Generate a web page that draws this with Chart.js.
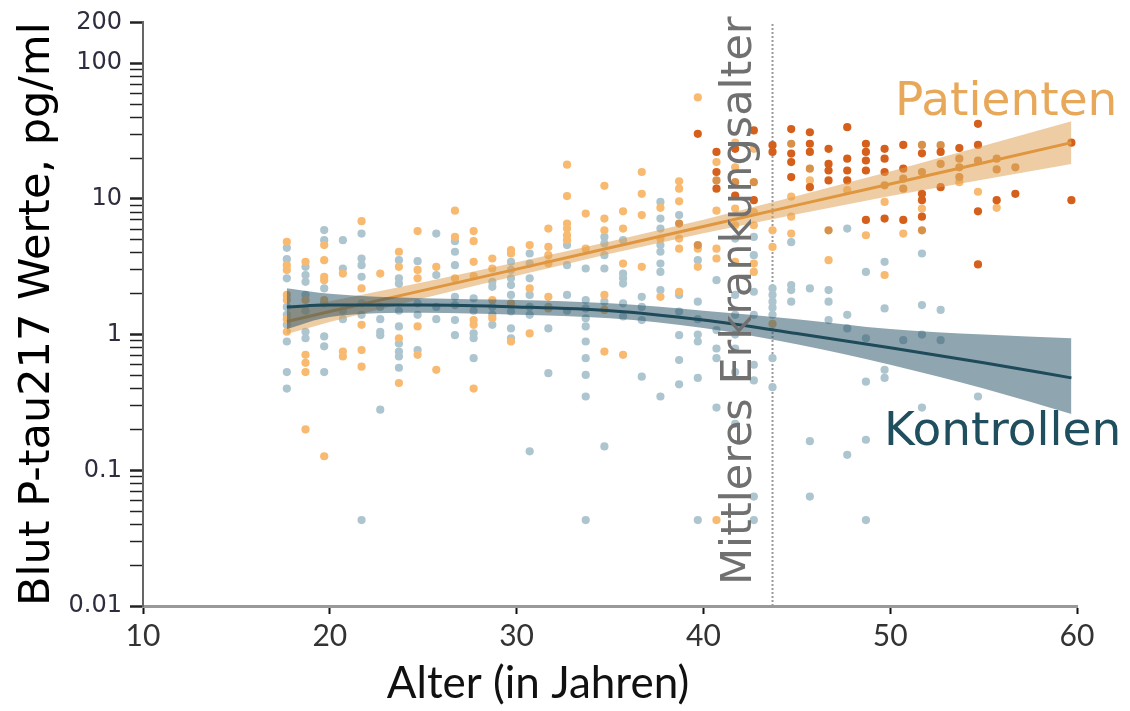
<!DOCTYPE html>
<html>
<head>
<meta charset="utf-8">
<script src="https://cdn.jsdelivr.net/npm/chart.js@4.4.0/dist/chart.umd.min.js"></script>
<style>
  html, body { margin: 0; padding: 0; background: #fff; }
  #wrap { width: 1130px; height: 711px; }
</style>
</head>
<body>
<div id="wrap"><canvas id="chart" width="1130" height="711"></canvas></div>
<script>
// Messwerte je Altersspalte: [Alter, [Werte pg/ml]]
const kontrollen = [
  [17.7, [4.36, 3.6, 2.6, 1.6, 1.4, 1.18, 0.89, 0.53, 0.40]],
  [18.7, [3.16, 2.75, 2.45, 1.96, 1.5, 1.05, 0.94]],
  [19.7, [5.9, 4.97, 2.19, 1.7, 0.97, 0.82, 0.53]],
  [20.7, [4.97, 3.07, 1.5, 1.3]],
  [21.7, [5.56, 3.64, 3.25, 2.67, 1.7, 1.4, 0.043]],
  [22.7, [1.6, 1.3, 1.05, 0.99, 0.28]],
  [23.7, [3.54, 2.6, 2.38, 1.5, 1.15, 0.86, 0.75, 0.69, 0.57]],
  [24.7, [3.48, 1.7, 1.4, 0.77]],
  [25.7, [5.56, 2.75, 1.6, 1.3]],
  [26.7, [4.88, 4.08, 3.25, 1.9, 1.65, 1.28, 0.99]],
  [27.7, [1.85, 1.5, 1.02, 0.94, 0.67]],
  [28.7, [2.45, 2.25, 1.6, 1.4, 1.18]],
  [29.7, [3.44, 3.0, 2.6, 2.32, 1.96, 1.48, 1.11, 0.94]],
  [30.7, [3.96, 3.34, 2.6, 1.96, 1.6, 1.4, 0.138]],
  [31.7, [1.6, 1.11, 0.52]],
  [32.7, [4.57, 3.25, 1.96, 1.5]],
  [33.7, [3.07, 1.8, 1.56, 1.32, 1.15, 0.89, 0.67, 0.505, 0.35, 0.043]],
  [34.7, [5.25, 4.7, 3.85, 3.07, 1.75, 0.15]],
  [35.7, [4.97, 2.82, 2.6, 2.38, 1.7, 1.36]],
  [36.7, [1.9, 1.6, 1.28, 0.49]],
  [37.7, [9.5, 7.16, 6.05, 4.57, 4.08, 3.34, 2.9, 2.13, 0.35]],
  [38.7, [7.6, 1.96, 1.48, 0.99, 0.65, 0.43]],
  [39.7, [3.54, 1.75, 1.3, 1.0, 0.89, 0.48, 0.043]],
  [40.7, [2.52, 1.08, 0.79, 0.67, 0.29]],
  [41.7, [5.1, 1.96, 1.4, 1.0, 0.79, 0.53, 0.22]],
  [42.7, [5.25, 3.85, 2.07, 1.4, 0.6, 0.46, 0.064, 0.043]],
  [43.7, [2.19, 1.96, 1.75, 1.58, 1.4, 0.67, 0.41]],
  [44.7, [4.8, 2.32, 2.13, 1.75]],
  [45.7, [2.19, 0.164, 0.064]],
  [46.7, [2.13, 1.75, 1.28]],
  [47.7, [6.05, 1.4, 1.11, 0.13]],
  [48.7, [2.9, 0.94, 0.45, 0.168, 0.043]],
  [49.7, [3.44, 1.56, 0.55, 0.48]],
  [50.7, [0.91]],
  [51.7, [3.96, 1.65, 1.0, 0.29]],
  [52.7, [1.52, 0.91]],
  [54.7, [0.35]]
];

const patientenHell = [
  [17.7, [4.83, 3.25, 3.0, 1.96, 1.8, 1.3, 1.05]],
  [18.7, [3.44, 1.8, 0.71, 0.62, 0.53, 0.2]],
  [19.7, [4.57, 3.54, 2.67, 2.52, 1.8, 0.127]],
  [20.7, [2.82, 0.75, 0.69]],
  [21.7, [6.86, 2.19, 1.18, 0.77, 0.58]],
  [22.7, [2.82]],
  [23.7, [4.08, 3.16, 0.94, 0.44]],
  [24.7, [5.8, 3.0, 2.6, 1.15, 0.71]],
  [25.7, [3.16, 0.55]],
  [26.7, [8.2, 5.25, 2.6]],
  [27.7, [5.8, 4.88, 3.44, 2.7, 1.28, 1.18, 0.4]],
  [28.7, [3.64, 3.07, 1.8, 1.32]],
  [29.7, [4.2, 3.96, 1.7, 0.89]],
  [30.7, [4.57, 2.19, 1.02]],
  [31.7, [6.05, 4.43, 3.85, 3.34, 1.9, 1.56]],
  [32.7, [17.9, 10.5, 6.58, 6.05, 5.4, 4.97]],
  [33.7, [7.8, 4.3]],
  [34.7, [12.5, 7.16, 5.87, 1.96, 1.52, 0.75]],
  [35.7, [8.1, 6.05, 3.34, 0.71]],
  [36.7, [15.8, 10.9, 7.6, 3.16]],
  [37.7, [8.6, 5.1, 1.9]],
  [38.7, [13.5, 11.9, 9.6, 5.1, 4.3, 2.07]],
  [39.7, [56, 4.3, 3.16]],
  [40.7, [18.7, 8.2, 4.3, 3.64, 0.043]],
  [41.7, [26, 17.1, 8.5, 6.4, 3.44]],
  [42.7, [23.4, 8.0, 6.4, 3.34, 2.9]],
  [43.7, [5.87, 4.43, 1.2]],
  [44.7, [10.4, 7.4, 5.56]],
  [45.7, [13.7]],
  [46.7, [3.54]],
  [47.7, [11.6]],
  [48.7, [5.4]],
  [49.7, [9.5, 2.75]],
  [50.7, [5.56]],
  [51.7, [8.5]],
  [53.7, [13.3]],
  [54.7, [11.3]],
  [55.7, [8.6]]
];

const patientenMittel = [
  [38.7, [6.58]], [39.7, [4.57]], [40.7, [13.7]], [41.7, [13.3]], [42.7, [13.3]],
  [44.7, [25.5]], [45.7, [16.7]], [46.7, [5.87]], [49.7, [12.6]], [50.7, [14.1, 11.9]],
  [51.7, [25, 15.8, 5.87]], [52.7, [24.9, 18.1]], [53.7, [19.8, 17.1, 14.5]],
  [54.7, [19.2]], [55.7, [19.8, 16.5]], [56.7, [17.1]]
];

const patientenDunkel = [
  [39.7, [30.2]], [40.7, [22.2, 15.8, 11.9]], [41.7, [23.4, 10.6]], [42.7, [32, 9.8]],
  [43.7, [24.9, 22.2]], [44.7, [32.7, 21.6, 18.7, 14.5]], [45.7, [31, 25.5, 22.2, 12.2]],
  [46.7, [23.4, 18.1, 16.2, 13.7]], [47.7, [33.8, 19.8, 16.2, 13.7]],
  [48.7, [25.5, 22.2, 19.2, 16.2, 7.0]], [49.7, [23.4, 19.8, 15.8, 7.16]],
  [50.7, [25, 16.7, 7.0]], [51.7, [21.7, 10.9, 9.8, 7.4]], [52.7, [22.2, 12.2]],
  [53.7, [23.7]], [54.7, [35.8, 25, 8.1, 3.29]], [55.7, [9.8]], [56.7, [10.9]],
  [59.7, [26, 9.8]]
];

// Regressionslinien mit Konfidenzband
const fitAlter = [17.7, 20, 25, 30, 35, 40, 45, 50, 55, 59.7];
const patientenFit   = [1.25, 1.48, 2.12, 3.04, 4.37, 6.27, 9.0, 12.9, 18.5, 26];
const patientenOben  = [1.55, 1.76, 2.43, 3.41, 4.85, 7.03, 10.5, 15.9, 24.7, 37.4];
const patientenUnten = [1.01, 1.24, 1.85, 2.71, 3.94, 5.59, 7.7, 10.5, 13.9, 18.1];
const kontrollenFit   = [1.6, 1.65, 1.65, 1.6, 1.5, 1.28, 1.02, 0.8, 0.62, 0.48];
const kontrollenOben  = [2.2, 2.0, 1.85, 1.8, 1.7, 1.5, 1.3, 1.1, 1.0, 0.94];
const kontrollenUnten = [1.1, 1.35, 1.45, 1.4, 1.32, 1.12, 0.85, 0.6, 0.4, 0.26];

const erkrankungsalter = 43.7;

const xTicks = [10, 20, 30, 40, 50, 60];
const yLabels = { 0.01: '0.01', 0.1: '0.1', 1: '1', 10: '10', 100: '100', 200: '200' };

// helpers
function toPoints(cols) {
  const pts = [];
  for (const [age, vals] of cols) for (const v of vals) pts.push({ x: age, y: v });
  return pts;
}
function toLine(ys) {
  return fitAlter.map((a, i) => ({ x: a, y: ys[i] }));
}
function yTickList() {
  const out = [];
  for (const dec of [0.01, 0.1, 1, 10]) {
    for (let m = 1; m <= 9; m++) out.push(+(dec * m).toPrecision(3));
  }
  out.push(100, 200);
  return out;
}

const pointStyle = (color, order) => ({
  type: 'line', showLine: false, pointRadius: 4.1, pointHoverRadius: 4.1,
  pointBorderWidth: 0, backgroundColor: color, borderColor: color, order
});
const lineStyle = (color, width, order, smooth) => ({
  type: 'line', borderColor: color, borderWidth: width, pointRadius: 0,
  fill: false, order, cubicInterpolationMode: smooth ? 'monotone' : 'default', tension: 0
});

// datasets — index matters for fill targets
const datasets = [
  { label: 'Kontrollen', data: toPoints(kontrollen), ...pointStyle('#adc5cf', 9) },
  { label: 'Patienten', data: toPoints(patientenHell), ...pointStyle('#f7ba70', 8) },
  { label: 'Patienten (mittel)', data: toPoints(patientenMittel), ...pointStyle('#d8914a', 7) },
  { label: 'Patienten (symptomatisch)', data: toPoints(patientenDunkel), ...pointStyle('#d5601c', 6) },
  // 4,5: Patienten Band
  { label: 'P oben', data: toLine(patientenOben), ...lineStyle('rgba(0,0,0,0)', 0, 5, false) },
  { label: 'P unten', data: toLine(patientenUnten), ...lineStyle('rgba(0,0,0,0)', 0, 5, false),
    fill: { target: 4 }, backgroundColor: 'rgba(222,160,80,0.52)' },
  { label: 'P Fit', data: toLine(patientenFit), ...lineStyle('#e0963f', 3, 4, false) },
  // 7,8: Kontrollen Band
  { label: 'K oben', data: toLine(kontrollenOben), ...lineStyle('rgba(0,0,0,0)', 0, 3, true) },
  { label: 'K unten', data: toLine(kontrollenUnten), ...lineStyle('rgba(0,0,0,0)', 0, 3, true),
    fill: { target: 7 }, backgroundColor: 'rgba(40,82,102,0.52)' },
  { label: 'K Fit', data: toLine(kontrollenFit), ...lineStyle('#1e4a5a', 3, 2, true) },
  { label: 'Erkrankungsalter', data: [{ x: erkrankungsalter, y: 0.01 }, { x: erkrankungsalter, y: 200 }],
    ...lineStyle('#9a9a9a', 2, 10, false), borderDash: [2, 2] }
];

// free text labels
const beschriftung = {
  id: 'beschriftung',
  afterDatasetsDraw(chart) {
    const { ctx } = chart;
    ctx.save();
    ctx.textAlign = 'left';
    ctx.textBaseline = 'alphabetic';
    ctx.font = '47px "DejaVu Sans"';
    ctx.fillStyle = '#e8a85a';
    ctx.fillText('Patienten', 895, 115);
    ctx.fillStyle = '#1f4e5e';
    ctx.fillText('Kontrollen', 884, 445);

    ctx.save();
    ctx.translate(751, 585);
    ctx.rotate(-Math.PI / 2);
    ctx.font = '43px "DejaVu Sans"';
    ctx.fillStyle = '#707070';
    ctx.fillText('Mittleres Erkrankungsalter', 0, 0);
    ctx.restore();

    ctx.font = '44px Lato, sans-serif';
    ctx.fillStyle = '#111';
    ctx.textAlign = 'center';
    ctx.fillText('Alter (in Jahren)', 538, 698);
    ctx.restore();
  }
};

new Chart(document.getElementById('chart').getContext('2d'), {
  type: 'line',
  data: { datasets },
  plugins: [beschriftung],
  options: {
    responsive: false,
    animation: false,
    devicePixelRatio: 1,
    layout: { padding: { top: 20, right: 53, left: 0, bottom: 0 } },
    plugins: { legend: { display: false }, tooltip: { enabled: false } },
    scales: {
      x: {
        type: 'linear', min: 10, max: 60,
        afterFit: s => { s.height = 105; },
        afterBuildTicks: s => { s.ticks = xTicks.map(v => ({ value: v })); },
        ticks: { font: { family: '"Liberation Sans Narrow", Lato, sans-serif', size: 30 }, color: '#333', padding: 4 },
        grid: { drawOnChartArea: false, drawTicks: true, tickLength: 8, tickColor: '#111', tickWidth: 2 },
        border: { display: true, color: '#999', width: 3 }
      },
      y: {
        type: 'logarithmic', min: 0.01, max: 200,
        afterFit: s => { s.width = 143; },
        afterBuildTicks: s => {
          s.ticks = yTickList().map(v => ({ value: v, major: yLabels[v] !== undefined }));
        },
        ticks: {
          autoSkip: false,
          callback: v => yLabels[v] || '',
          font: { family: '"DejaVu Sans"', size: 24 }, color: '#2d2d40', padding: 8
        },
        grid: {
          drawOnChartArea: false, drawTicks: true, tickLength: 13,
          tickColor: '#222',
          tickWidth: c => (c.tick && c.tick.major ? 2.5 : 1.5)
        },
        border: { display: true, color: '#666', width: 2 },
        title: {
          display: true, text: 'Blut P-tau217 Werte, pg/ml',
          font: { family: '"DejaVu Sans"', size: 43 }, color: '#000',
          padding: { top: 12, bottom: 0 }
        }
      }
    }
  }
});
</script>
</body>
</html>
